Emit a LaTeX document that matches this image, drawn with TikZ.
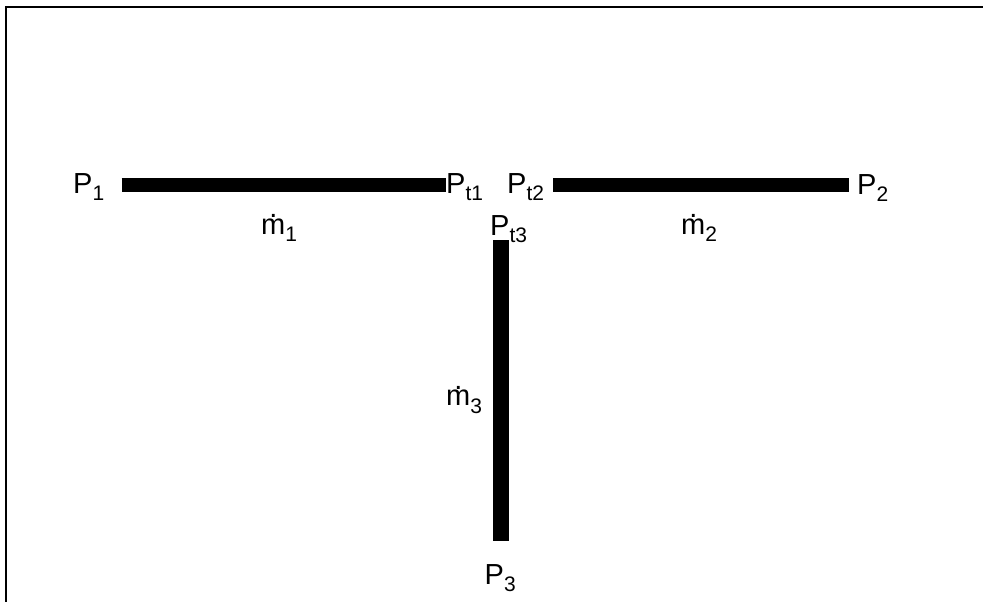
\documentclass[tikz,border=0pt]{standalone}
\usepackage{fontspec}
\setmainfont{Liberation Sans}
\newcommand{\sbx}[1]{\raisebox{-7.5pt}{\fontsize{21}{21}\selectfont #1}}
\newcommand{\mdot}{\ooalign{m\cr\hidewidth\raisebox{16.5pt}{.}\hidewidth\cr}}
\begin{document}
\begin{tikzpicture}[x=1pt,y=-1pt,
  lbl/.style={anchor=base west,inner sep=0pt,font=\fontsize{29}{31}\selectfont},
  pipe/.style={line width=14pt,line cap=butt},
  vpipe/.style={line width=16pt,line cap=butt},
  frameline/.style={line width=2.5pt}]
\useasboundingbox (0,0) rectangle (983,602);
% frame (top and left only)
\coordinate (f1) at (6,602);
\coordinate (f2) at (6,7);
\coordinate (f3) at (983,7);
\draw[frameline] (f1) -- (f2) -- (f3);
% pipe ends
\coordinate (a1) at (121.5,184.5);
\coordinate (a2) at (446,184.5);
\coordinate (b1) at (553,184.5);
\coordinate (b2) at (849,184.5);
\coordinate (c1) at (500.5,240);
\coordinate (c2) at (500.5,541);
\draw[pipe] (a1) -- (a2);
\draw[pipe] (b1) -- (b2);
\draw[vpipe] (c1) -- (c2);
% labels
\node[lbl] (p1) at (73,193) {P\sbx{1}};
\node[lbl] (pt1) at (446,193) {P\sbx{t1}};
\node[lbl] (pt2) at (507,193) {P\sbx{t2}};
\node[lbl] (p2) at (857,194) {P\sbx{2}};
\node[lbl] (pt3) at (490,235) {P\sbx{t3}};
\node[lbl] (m1) at (261,234) {\mdot\sbx{1}};
\node[lbl] (m2) at (681,234) {\mdot\sbx{2}};
\node[lbl] (m3) at (446,405.5) {\mdot\sbx{3}};
\node[lbl] (p3) at (484.5,584) {P\sbx{3}};
\end{tikzpicture}
\end{document}
